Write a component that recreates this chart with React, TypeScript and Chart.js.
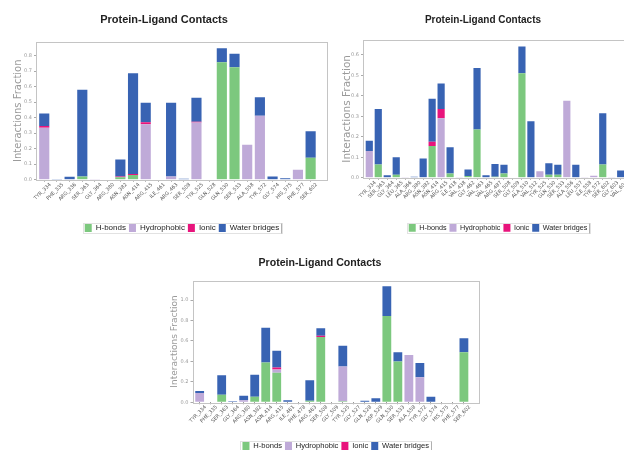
import React, { useEffect, useRef } from 'react';
import { Chart, registerables } from 'chart.js';

Chart.register(...registerables);

const SERIES_NAMES = ['H-bonds', 'Hydrophobic', 'Ionic', 'Water bridges'];
const SERIES_COLORS = ['#7cc87e', '#bfaad8', '#e8147c', '#3863b3'];
const TITLE_TEXT = 'Protein-Ligand Contacts';
const Y_TITLE = 'Interactions Fraction';

// ---------- Panel A (top left) ----------
const labelsA = ['TYR_334', 'PHE_335', 'ARG_336', 'SER_363', 'GLY_364', 'ARG_380', 'ASN_382', 'ASN_414', 'ARG_415', 'ILE_461', 'ARG_463', 'SER_508', 'TYR_525', 'GLN_528', 'GLN_530', 'SER_533', 'ALA_558', 'TYR_572', 'GLY_574', 'HIS_575', 'PHE_577', 'SER_602'];
const hbondsA = [0, 0, 0, 0.02, 0, 0, 0.015, 0.03, 0, 0, 0, 0, 0, 0, 0.757, 0.725, 0, 0, 0, 0, 0, 0.142];
const hydrophobicA = [0.335, 0, 0, 0, 0.004, 0, 0, 0, 0.358, 0, 0.02, 0, 0.369, 0, 0, 0, 0.225, 0.413, 0, 0, 0.064, 0];
const ionicA = [0.012, 0, 0, 0, 0, 0, 0.005, 0.006, 0.013, 0, 0, 0, 0.005, 0, 0, 0, 0, 0, 0, 0, 0, 0];
const waterA = [0.08, 0.005, 0.019, 0.56, 0, 0, 0.111, 0.651, 0.125, 0, 0.476, 0.006, 0.154, 0, 0.091, 0.088, 0, 0.119, 0.02, 0.01, 0, 0.171];
const yTicksA = [0, 0.1, 0.2, 0.3, 0.4, 0.5, 0.6, 0.7, 0.8];
const yMaxA = 0.89;

// ---------- Panel B (top right) ----------
const labelsB = ['TYR_334', 'SER_363', 'GLY_364', 'LEU_365', 'ALA_366', 'ARG_380', 'ASN_382', 'ASN_414', 'ARG_415', 'ILE_418', 'VAL_438', 'GLY_462', 'VAL_463', 'VAL_465', 'ARG_487', 'SER_508', 'GLY_509', 'ALA_510', 'VAL_512', 'TYR_525', 'GLN_530', 'SER_533', 'ALA_556', 'LEU_557', 'ILE_558', 'TYR_572', 'SER_602', 'GLY_603', 'VAL_604'];
const hbondsB = [0, 0.065, 0, 0.015, 0, 0, 0, 0.155, 0, 0.02, 0, 0.008, 0.235, 0, 0.005, 0.02, 0, 0.51, 0, 0, 0.015, 0.015, 0, 0, 0, 0, 0.065, 0, 0];
const hydrophobicB = [0.13, 0, 0, 0, 0.003, 0, 0, 0, 0.29, 0, 0.003, 0, 0, 0, 0, 0, 0.002, 0, 0, 0.032, 0, 0, 0.375, 0, 0.003, 0.01, 0, 0.003, 0];
const ionicB = [0, 0, 0, 0, 0, 0, 0, 0.02, 0.045, 0, 0, 0, 0, 0, 0, 0, 0, 0, 0, 0, 0, 0, 0, 0, 0, 0, 0, 0, 0];
const waterB = [0.05, 0.27, 0.012, 0.085, 0, 0.005, 0.094, 0.21, 0.125, 0.128, 0, 0.032, 0.3, 0.012, 0.062, 0.043, 0, 0.13, 0.276, 0, 0.055, 0.048, 0, 0.063, 0, 0, 0.249, 0, 0.035];
const yTicksB = [0, 0.1, 0.2, 0.3, 0.4, 0.5, 0.6];
const yMaxB = 0.672;

// ---------- Panel C (bottom) ----------
const labelsC = ['TYR_334', 'PHE_335', 'SER_363', 'GLY_364', 'ARG_380', 'ASN_382', 'ASN_414', 'ARG_415', 'ILE_461', 'PHE_478', 'ARG_463', 'SER_508', 'GLY_509', 'TYR_525', 'GLY_527', 'GLN_528', 'ASP_529', 'GLN_530', 'SER_533', 'ALA_558', 'TYR_572', 'GLY_574', 'HIS_575', 'PHE_577', 'SER_602'];
const hbondsC = [0, 0, 0.075, 0, 0, 0.055, 0.39, 0.29, 0, 0, 0.015, 0.64, 0, 0.01, 0, 0, 0, 0.845, 0.4, 0, 0.005, 0, 0, 0, 0.49];
const hydrophobicC = [0.09, 0, 0, 0, 0.02, 0, 0, 0.03, 0, 0, 0, 0, 0.005, 0.34, 0.005, 0, 0, 0, 0, 0.463, 0.24, 0, 0, 0, 0];
const ionicC = [0, 0, 0, 0, 0, 0, 0, 0.02, 0, 0, 0, 0.012, 0, 0, 0, 0, 0, 0, 0, 0, 0, 0, 0, 0, 0];
const waterC = [0.02, 0, 0.189, 0.01, 0.045, 0.215, 0.34, 0.165, 0.02, 0, 0.2, 0.074, 0, 0.204, 0, 0.015, 0.04, 0.292, 0.089, 0, 0.139, 0.055, 0, 0, 0.138];
const yTicksC = [0, 0.2, 0.4, 0.6, 0.8, 1.0];
const yMaxC = 1.19;

const framePlugin = {
  id: 'frame',
  afterDraw(chart: any) {
    const { ctx, chartArea: a } = chart;
    ctx.save();
    ctx.strokeStyle = '#c4c4c4';
    ctx.lineWidth = 1;
    ctx.strokeRect(Math.round(a.left) + 0.5, Math.round(a.top) + 0.5, Math.round(a.right - a.left) - 1, Math.round(a.bottom - a.top));
    const boxes = chart.legend && chart.legend.legendHitBoxes;
    if (boxes && boxes.length) {
      const l = Math.min(...boxes.map((b: any) => b.left)) - 2;
      const r = Math.max(...boxes.map((b: any) => b.left + b.width)) + 2;
      const t = Math.min(...boxes.map((b: any) => b.top)) - 1;
      const btm = Math.max(...boxes.map((b: any) => b.top + b.height)) + 1;
      ctx.strokeStyle = '#e2e2e2';
      ctx.strokeRect(Math.round(l) + 0.5, Math.round(t) + 0.5, Math.round(r - l), Math.round(btm - t));
      ctx.strokeStyle = '#b0b0b0';
      ctx.beginPath();
      ctx.moveTo(Math.round(r) + 0.5, Math.round(t) + 0.5);
      ctx.lineTo(Math.round(r) + 0.5, Math.round(btm) + 0.5);
      ctx.stroke();
    }
    ctx.restore();
  },
};

type PanelProps = {
  labels: string[];
  series: number[][];
  yTicks: number[];
  yMax: number;
  xMin: number;
  xExtra: number;
  left: number;
  top: number;
  width: number;
  height: number;
  titleSize: number;
  titlePad: { top: number; bottom: number };
  yAxisW: number;
  yTitleSize: number;
  yTitlePad: number;
  xAxisH: number;
  padRight: number;
  padBottom: number;
  legendSize: number;
};

function Panel(p: PanelProps) {
  const ref = useRef<HTMLCanvasElement>(null);
  useEffect(() => {
    if (!ref.current) return;
    const datasets = p.series.map((vals, si) => ({
      label: SERIES_NAMES[si],
      data: vals.map((v, i) => ({ x: i, y: v })),
      backgroundColor: SERIES_COLORS[si],
      borderWidth: 0,
      categoryPercentage: 0.8,
      barPercentage: 1.0,
    }));
    const chart = new Chart(ref.current, {
      type: 'bar',
      data: { datasets },
      plugins: [framePlugin],
      options: {
        animation: false,
        responsive: false,
        devicePixelRatio: 1,
        layout: { padding: { left: 0, top: 0, right: p.padRight, bottom: p.padBottom } },
        scales: {
          x: {
            type: 'linear',
            offset: false,
            stacked: true,
            min: p.xMin,
            max: p.labels.length - 1 + p.xExtra,
            afterBuildTicks: (axis: any) => {
              axis.ticks = p.labels.map((_, i) => ({ value: i }));
            },
            afterFit: (axis: any) => {
              axis.height = p.xAxisH;
            },
            ticks: {
              autoSkip: false,
              minRotation: 45,
              maxRotation: 45,
              labelOffset: 6,
              padding: 0,
              color: '#555',
              font: { family: 'DejaVu Sans', size: 5 },
              callback: (v: any) => p.labels[Math.round(Number(v))] ?? '',
            },
            grid: { display: true, offset: false, drawOnChartArea: false, drawTicks: true, tickLength: 2, color: '#999' },
            border: { display: false },
          },
          y: {
            type: 'linear',
            stacked: true,
            min: 0,
            max: p.yMax,
            afterBuildTicks: (axis: any) => {
              axis.ticks = p.yTicks.map((v) => ({ value: v }));
            },
            afterFit: (axis: any) => {
              axis.width = p.yAxisW;
            },
            ticks: {
              color: '#999',
              padding: 2,
              font: { family: 'DejaVu Sans', size: 5 },
              callback: (v: any) => Number(v).toFixed(1),
            },
            grid: { display: true, drawOnChartArea: false, drawTicks: true, tickLength: 2, color: '#aaa' },
            border: { display: false },
            title: {
              display: true,
              text: Y_TITLE,
              color: '#9a9a9a',
              font: { family: 'DejaVu Sans', size: p.yTitleSize },
              padding: { top: p.yTitlePad, bottom: 0 },
            },
          },
        },
        plugins: {
          title: {
            display: true,
            text: TITLE_TEXT,
            color: '#222',
            font: { family: 'Liberation Sans', weight: 'bold', size: p.titleSize },
            padding: p.titlePad,
          },
          legend: {
            display: true,
            position: 'bottom',
            fullSize: false,
            maxHeight: 16,
            labels: {
              boxWidth: 7,
              boxHeight: 8,
              padding: 3,
              color: '#222',
              font: { family: 'Liberation Sans', size: p.legendSize },
            },
          },
          tooltip: { enabled: false },
        },
      } as any,
    });
    return () => chart.destroy();
  }, []);
  return (
    <div style={{ position: 'absolute', left: p.left, top: p.top, width: p.width, height: p.height }}>
      <canvas ref={ref} width={p.width} height={p.height} style={{ width: p.width, height: p.height, display: 'block' }} />
    </div>
  );
}

export default function App() {
  return (
    <div style={{ position: 'fixed', left: 0, top: 0, width: 624, height: 450, overflow: 'hidden', background: '#fff' }}>
      <Panel
        labels={labelsA}
        series={[hbondsA, hydrophobicA, ionicA, waterA]}
        yTicks={yTicksA}
        yMax={yMaxA}
        xMin={-0.65}
        xExtra={1.37}
        left={0}
        top={0}
        width={334}
        height={242}
        titleSize={11}
        titlePad={{ top: 13, bottom: 15.5 }}
        yAxisW={36}
        yTitleSize={10}
        yTitlePad={12.5}
        xAxisH={41.3}
        padRight={6}
        padBottom={5}
        legendSize={8}
      />
      <Panel
        labels={labelsB}
        series={[hbondsB, hydrophobicB, ionicB, waterB]}
        yTicks={yTicksB}
        yMax={yMaxB}
        xMin={-0.7}
        xExtra={1.37}
        left={333}
        top={0}
        width={310}
        height={242}
        titleSize={10}
        titlePad={{ top: 14, bottom: 14 }}
        yAxisW={30}
        yTitleSize={10.5}
        yTitlePad={7.7}
        xAxisH={43}
        padRight={10}
        padBottom={5.3}
        legendSize={7.2}
      />
      <Panel
        labels={labelsC}
        series={[hbondsC, hydrophobicC, ionicC, waterC]}
        yTicks={yTicksC}
        yMax={yMaxC}
        xMin={-0.65}
        xExtra={1.37}
        left={161}
        top={245}
        width={326}
        height={215}
        titleSize={10.6}
        titlePad={{ top: 11.6, bottom: 11.4 }}
        yAxisW={31.5}
        yTitleSize={9}
        yTitlePad={8.1}
        xAxisH={36.7}
        padRight={8}
        padBottom={5}
        legendSize={7.6}
      />
    </div>
  );
}
